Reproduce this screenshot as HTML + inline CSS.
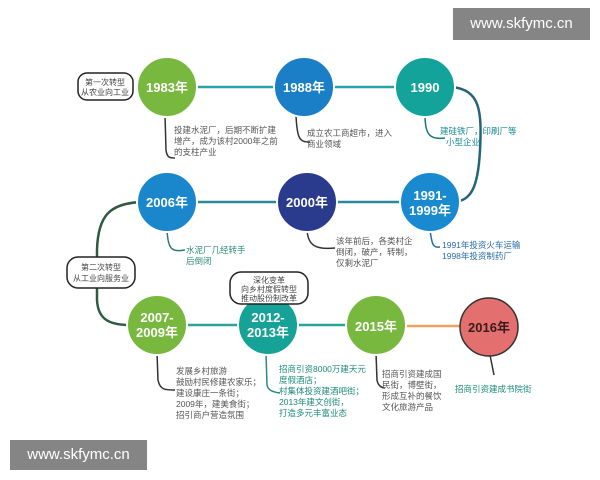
<!DOCTYPE html>
<html><head><meta charset="utf-8"><style>
body{margin:0;background:#fff;width:600px;height:480px;overflow:hidden;font-family:"Liberation Sans","Noto Sans CJK SC",sans-serif}
svg text{font-family:"Liberation Sans","Noto Sans CJK SC",sans-serif}
.wm{position:absolute;background:#858585;color:#fff;font-size:15px;text-align:center;line-height:30px}
</style></head><body>
<svg width="600" height="480" viewBox="0 0 600 480" style="position:absolute;left:0;top:0">
<g fill="none" stroke-width="2.5">
<line x1="190" y1="87" x2="400" y2="87" stroke="#2aa3a6"/>
<path d="M452 87 C480 90 482 110 480 150 C478 190 470 200 455 202" stroke="#23647a"/>
<line x1="190" y1="202" x2="410" y2="202" stroke="#2a8a9a"/>
<path d="M140 202 C110 204 98 215 97 250 L97 300 C98 320 110 325 130 325" stroke="#2e5a40"/>
<line x1="180" y1="325" x2="360" y2="325" stroke="#2aa39a"/>
<line x1="400" y1="326" x2="465" y2="326" stroke="#f0a060"/>
</g>
<g fill="none" stroke-width="1.5">
<path d="M165 115 L166 150 C167 158 170 158 175 158" stroke="#333"/>
<path d="M296 115 C297 140 300 142 310 142" stroke="#333"/>
<path d="M425 115 C425 135 430 140 445 138" stroke="#167a7a"/>
<path d="M167 230 C168 250 172 252 185 250" stroke="#2a7a70"/>
<path d="M307 230 C308 245 315 250 335 248" stroke="#333"/>
<path d="M430 230 C432 245 433 248 440 247" stroke="#2a6aa0"/>
<path d="M157 353 L158 380 C160 390 165 390 175 390" stroke="#333"/>
<path d="M266 353 L267 385 C268 390 272 392 280 393" stroke="#2a8a80"/>
<path d="M376 353 L377 380 C378 386 382 388 385 388" stroke="#333"/>
<path d="M490 355 L494 375" stroke="#333"/>
</g>
<g stroke="#fff" stroke-width="2">
<circle cx="167" cy="87" r="30" fill="#79b83f"/>
<circle cx="304" cy="87" r="30" fill="#1a7fc6"/>
<circle cx="425" cy="87" r="30" fill="#14a39a"/>
<circle cx="167" cy="202" r="30" fill="#1a87cc"/>
<circle cx="307" cy="202" r="30" fill="#2a3b8e"/>
<circle cx="430" cy="202" r="30" fill="#1a8ad0"/>
<circle cx="157" cy="325" r="30" fill="#79b83f"/>
<circle cx="268" cy="325" r="30" fill="#17a298"/>
<circle cx="376" cy="325" r="30" fill="#79b83f"/>
</g>
<circle cx="489" cy="327" r="29" fill="#e46f6f" stroke="#333" stroke-width="1.5"/>
<g stroke="#222" stroke-width="1.5" fill="#fff">
<rect x="78" y="73" width="55" height="27" rx="9"/>
<rect x="67" y="257" width="68" height="31" rx="11"/>
<rect x="230" y="272" width="78" height="32" rx="11"/>
</g>
<g font-size="8" fill="#444" text-anchor="middle">
<text x="105" y="85">第一次转型</text><text x="105" y="95">从农业向工业</text>
<text x="101" y="270">第二次转型</text><text x="101" y="281">从工业向服务业</text>
<text x="269" y="283">深化变革</text><text x="269" y="292">向乡村度假转型</text><text x="269" y="301">推动股份制改革</text>
</g>
<g font-size="13" font-weight="bold" fill="#fff" text-anchor="middle">
<text x="167" y="92">1983年</text><text x="304" y="92">1988年</text><text x="425" y="92">1990</text>
<text x="167" y="207">2006年</text><text x="307" y="207">2000年</text>
<text x="430" y="200">1991-</text><text x="430" y="215">1999年</text>
<text x="157" y="322">2007-</text><text x="157" y="337">2009年</text>
<text x="268" y="322">2012-</text><text x="268" y="337">2013年</text>
<text x="376" y="331">2015年</text>
<text x="489" y="332" fill="#3a1a1a">2016年</text>
</g>
<g font-size="8.5" fill="#555">
<text x="174" y="133">投建水泥厂，后期不断扩建</text><text x="174" y="144">增产，成为该村2000年之前</text><text x="174" y="155">的支柱产业</text>
<text x="307" y="136">成立农工商超市，进入</text><text x="307" y="147">商业领域</text>
<text x="440" y="134" fill="#1a8a8a">建硅铁厂，印刷厂等</text><text x="446" y="145" fill="#1a8a8a">小型企业</text>
<text x="186" y="253" fill="#2a8a7a">水泥厂几经转手</text><text x="186" y="264" fill="#2a8a7a">后倒闭</text>
<text x="336" y="244">该年前后，各类村企</text><text x="336" y="255">倒闭，破产，转制，</text><text x="336" y="266">仅剩水泥厂</text>
<text x="442" y="248" fill="#2a6aa8">1991年投资火车运输</text><text x="442" y="259" fill="#2a6aa8">1998年投资制药厂</text>
<text x="176" y="374">发展乡村旅游</text><text x="176" y="385">鼓励村民修建农家乐；</text><text x="176" y="396">建设康庄一条街；</text><text x="176" y="407">2009年，建美食街；</text><text x="176" y="418">招引商户营造氛围</text>
<g fill="#1a8a7a"><text x="279" y="372">招商引资8000万建天元</text><text x="279" y="383">度假酒店；</text><text x="279" y="394">村集体投资建酒吧街；</text><text x="279" y="405">2013年建文创街，</text><text x="279" y="416">打造多元丰富业态</text></g>
<text x="382" y="377">招商引资建成国</text><text x="382" y="388">民街，博壁街，</text><text x="382" y="399">形成互补的餐饮</text><text x="382" y="410">文化旅游产品</text>
<text x="455" y="392" fill="#1a8a7a">招商引资建成书院街</text>
</g>
</svg>
<div class="wm" style="left:453px;top:8px;width:137px;height:32px;line-height:32px">www.skfymc.cn</div>
<div class="wm" style="left:10px;top:440px;width:137px;height:30px">www.skfymc.cn</div>
</body></html>
